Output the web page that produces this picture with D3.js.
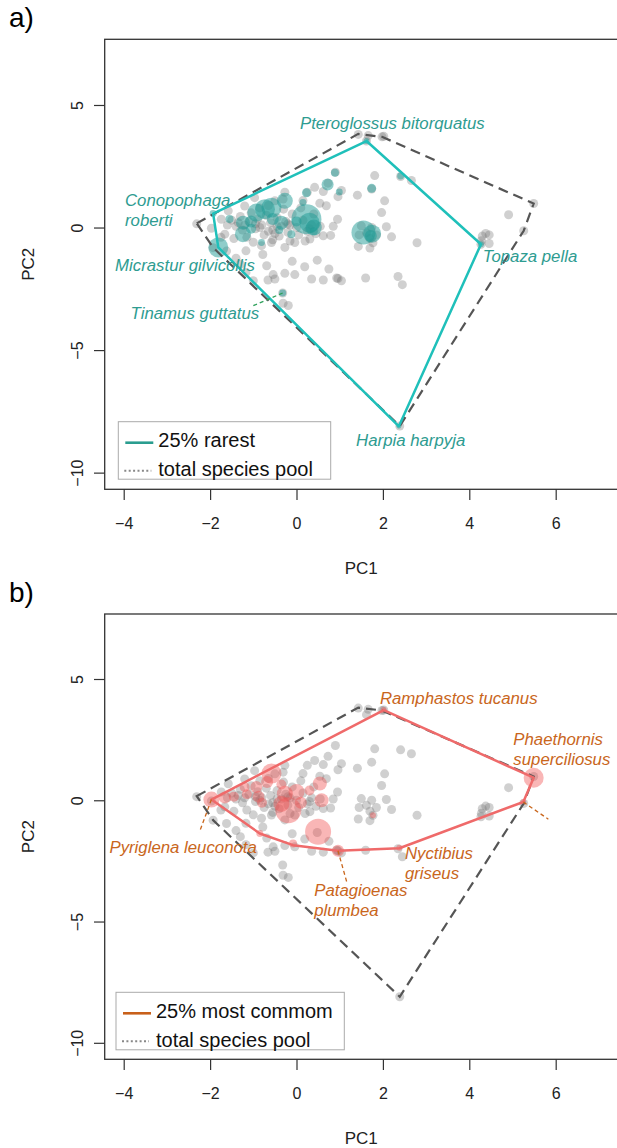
<!DOCTYPE html>
<html>
<head>
<meta charset="utf-8">
<script src="https://cdn.jsdelivr.net/npm/d3@7"></script>
<style>
  body { margin: 0; background: #fff; }
  text { font-family: "Liberation Sans", Arial, sans-serif; }
</style>
</head>
<body>
<div id="chart"></div>
<script>
// axis ticks
var xTicks = [-4, -2, 0, 2, 4, 6];
var yTicks = [-10, -5, 0, 5];

// whole species pool (grey points), PC1 / PC2
var poolPC1 = [-2.31, 1.43, 1.66, 1.98, 5.49, 5.26, 2.39, -1.93, 4.91, 4.38, 4.46, 4.46, 4.28, 4.30,
  2.66, 1.81, 2.41, 2.04, 1.97, 2.08, 2.20, 2.79, 2.35, 2.45, 1.60, 1.41, 1.43, 1.70, 1.50, 1.74,
  1.62, 1.85, 1.45, 1.70, 1.77, 0.90, 1.04, 1.74, 0.73, 0.42, 0.62, 0.96, 0.25, -0.27, -0.31, 0.15,
  0.69, 0.54, 0.95, 0.79, 0.62, 0.31, -0.04, -0.27, -0.58, -0.81, -1.17, -1.66, -1.97, -1.74, -1.58,
  -1.20, -0.97, -0.50, -0.69, -0.10, 0.19, 0.48, 0.75, -0.27, -0.04, -0.50, -0.66, -0.54, 0.35, 0.62,
  0.93, 1.04, -1.17, -1.00, -0.31, -0.19, -1.62, -1.40, -1.50, -1.40, -1.30, -1.25, -1.10, -1.05,
  -0.95, -0.90, -0.80, -0.75, -0.70, -0.60, -0.55, -0.45, -0.40, -0.35, -0.25, -0.20, -0.10, 0.00,
  0.05, 0.15, 0.25, 0.35, 0.45, 0.55, -1.60, -1.45, -1.15, -0.85, -0.65, -0.30, 0.10, 0.40, -1.00,
  -0.55, -0.15, 0.20, -1.75, 0.85, -0.78, -1.30, -1.20, -0.95, -0.65, -0.45, -0.15, 1.62, 4.27,
  -0.32, 2.02, 0.96, -1.35, -0.85, -0.50, -0.20, 0.30];
var poolPC2 = [0.15, 3.80, 3.75, 3.70, 0.98, -0.13, -8.10, -0.82, 0.52, -0.24, -0.30, -0.65, -0.54, -0.35,
  1.92, 2.12, 2.08, 1.09, 0.61, 0.03, -0.38, -0.62, -2.00, -2.33, -2.06, 1.32, -0.77, -0.84, 0.07, 0.00,
  -0.21, -0.30, -0.30, -0.45, -0.62, 2.26, 1.51, 1.57, 1.81, 1.64, 1.47, 1.26, 1.44, 1.44, 1.16, 1.10,
  0.89, 0.99, 0.34, -0.32, -0.34, -0.47, -0.61, -0.81, -0.61, -0.74, -0.95, -0.27, -0.03, 0.34, 0.68,
  0.88, 1.22, 1.09, -1.56, -1.38, -1.60, -1.33, -1.69, -1.87, -1.92, -2.10, -2.14, -1.92, -2.10, -2.14,
  -2.06, -2.17, -1.83, -2.17, -3.09, -3.18, -0.96, -1.25, 0.30, 0.05, 0.45, -0.10, 0.25, 0.60,
  -0.05, 0.35, 0.10, -0.30, 0.50, 0.20, -0.10, 0.40, -0.35, 0.05, 0.25, -0.20, 0.55, 0.00,
  -0.30, 0.30, -0.15, 0.10, -0.25, 0.05, 0.10, -0.45, -0.40, 0.80, 0.90, 0.75, 0.80, 0.55, -0.60,
  -0.50, -0.55, -0.55, -0.40, 0.05, -1.10, -1.50, 0.10, 0.15, -0.15, 0.05, 0.10, 3.53, -0.68,
  -2.67, 3.72, -2.08, 0.20, 0.00, -0.25, 0.15, -0.05];

// convex hull of the whole pool
var poolHullPC1 = [-2.31, 1.43, 1.98, 5.49, 5.26, 2.39, -1.93];
var poolHullPC2 = [0.17, 3.82, 3.70, 0.98, -0.13, -8.10, -0.82];

// a) 25% rarest species, bubble weight = relative abundance
var rarePC1 = [0.23, 0.40, 0.30, 1.55, 1.75, 1.72, -0.73, -0.58, -0.27, -0.93, -1.24, -1.24, -0.35, 0.72,
  0.89, 0.99, 1.74, 2.41, 0.23, 0.15, -1.81, -1.93, -1.55, -0.81, -0.12, -0.40, -1.05, 0.40, -0.32,
  1.62, 4.27, 2.37, -0.55, -1.05, 0.00];
var rarePC2 = [0.34, 0.00, 0.20, -0.20, -0.25, -0.35, 0.75, 0.81, 1.09, 0.61, 0.20, -0.27, 0.20, 1.76,
  2.24, 1.45, 1.60, 2.10, 1.42, 1.02, -0.81, 0.57, 0.35, -0.61, -0.27, -0.10, -0.05, -0.15, -2.67,
  3.53, -0.68, -8.11, 0.35, 0.25, 0.25];
var rareW = [22.5, 6.4, 10, 14.4, 8.1, 3.6, 10, 10, 6.4, 8.1, 4.9, 6.4, 4.9, 3.6,
  1.6, 1.2, 2.0, 1.2, 2.0, 1.2, 10, 1.2, 1.6, 1.2, 1.6, 1.6, 2.5, 1.6, 1.2,
  0.9, 0.9, 0.6, 3.6, 3.6, 2.5];
var rareHullPC1 = [-1.93, 1.62, 4.27, 2.37, -1.81];
var rareHullPC2 = [0.57, 3.53, -0.68, -8.11, -0.81];
var rareNames = [["Pteroglossus bitorquatus"], ["Conopophaga", "roberti"], ["Micrastur gilvicollis"],
  ["Topaza pella"], ["Tinamus guttatus"], ["Harpia harpyja"]];
var rareNamePC1 = [0.08, -3.97, -4.20, 4.31, -3.84, 1.38];
var rareNamePC2 = [4.01, 0.88, -1.77, -1.40, -3.74, -8.91];
// leader lines: from point to label
var rareLeaders = [[-0.32, -2.67, -1.04, -3.22]];

// b) 25% most common species
var commonPC1 = [-1.97, -1.66, -1.45, -0.58, -0.68, -0.93, -0.88, -0.80, -0.27, 0.00, -0.19, -0.35, 0.10,
  0.30, 0.54, 0.58, 0.50, -0.08, 0.96, 1.77, -1.20, -1.15, 5.49, 5.25, 2.38, 2.02, -0.85, -0.35];
var commonPC2 = [0.03, 0.11, 0.15, 1.10, 0.75, 0.55, 0.15, -0.10, 0.27, 0.34, -0.41, -0.15, -0.10,
  0.40, 0.69, 0.00, -1.30, -1.78, -2.08, -0.62, 0.55, 0.25, 0.93, -0.07, -1.96, 3.72, -1.37, 0.65];
var commonW = [6.4, 3.6, 2.5, 10, 3.6, 3.6, 3.6, 2.5, 6.4, 6.4, 16.9, 6.4, 3.6,
  2.5, 4.9, 4.9, 16.9, 1.6, 3.6, 0.9, 2.5, 2.5, 10, 0.9, 0.9, 0.9, 1.2, 2.5];
var commonHullPC1 = [-1.97, -0.85, -0.08, 0.96, 2.38, 5.25, 5.49, 2.02];
var commonHullPC2 = [0.03, -1.37, -1.85, -2.08, -1.98, -0.07, 0.93, 3.72];
var commonNames = [["Ramphastos tucanus"], ["Phaethornis", "superciliosus"], ["Pyriglena leuconota"],
  ["Nyctibius", "griseus"], ["Patagioenas", "plumbea"]];
var commonNamePC1 = [1.93, 5.02, -4.33, 2.51, 0.41];
var commonNamePC2 = [3.96, 2.27, -2.16, -2.43, -3.95];
var commonLeaders = [[-1.97, 0.03, -2.25, -1.33], [0.96, -2.08, 1.16, -3.35], [5.25, -0.07, 5.83, -0.78]];

var svg = d3.select("#chart").append("svg").attr("width", 617).attr("height", 1148);

var x = d3.scaleLinear().domain([-4.44, 7.44]).range([104.7, 617.9]);
var rScale = d3.scaleSqrt().domain([0, 22.5]).range([0, 15]);

function hullPath(xs, ys, y) {
  return "M" + xs.map(function (v, i) { return x(v) + "," + y(ys[i]); }).join("L") + "Z";
}

function drawPanel(p) {
  var y = d3.scaleLinear().domain([-10.68, 7.68]).range([p.bottom, p.top]);
  var g = svg.append("g");

  g.append("text").attr("x", 9).attr("y", p.top - 12).style("font-size", "28px").text(p.tag);

  // grey pool points
  g.selectAll(".pool").data(poolPC1).enter().append("circle")
    .attr("cx", function (d) { return x(d); })
    .attr("cy", function (d, i) { return y(poolPC2[i]); })
    .attr("r", 4.5).attr("fill", "#6e6e6e").attr("fill-opacity", 0.32);

  // subset bubbles
  g.selectAll(".sub").data(p.pc1).enter().append("circle")
    .attr("cx", function (d) { return x(d); })
    .attr("cy", function (d, i) { return y(p.pc2[i]); })
    .attr("r", function (d, i) { return rScale(p.w[i]); })
    .attr("fill", p.fill).attr("fill-opacity", p.fillOp);

  // hulls
  g.append("path").attr("d", hullPath(poolHullPC1, poolHullPC2, y))
    .attr("fill", "none").attr("stroke", "#555").attr("stroke-width", 2.2)
    .attr("stroke-dasharray", "10,6");
  g.append("path").attr("d", hullPath(p.hx, p.hy, y))
    .attr("fill", "none").attr("stroke", p.hullCol).attr("stroke-width", 2.5)
    .attr("stroke-linejoin", "round");

  // leaders
  p.leaders.forEach(function (l) {
    g.append("line").attr("x1", x(l[0])).attr("y1", y(l[1])).attr("x2", x(l[2])).attr("y2", y(l[3]))
      .attr("stroke", p.leaderCol).attr("stroke-width", 1.3).attr("stroke-dasharray", "4,3");
  });

  // species labels
  p.names.forEach(function (lines, i) {
    var t = g.append("text").attr("x", x(p.nx[i])).attr("y", y(p.ny[i]))
      .style("font-size", "16.8px").style("font-style", "italic").attr("fill", p.textCol);
    lines.forEach(function (s, k) {
      t.append("tspan").attr("x", x(p.nx[i])).attr("dy", k === 0 ? 0 : 20).text(s);
    });
  });

  // box
  g.append("rect").attr("x", 104.7).attr("y", p.top).attr("width", 513.2).attr("height", p.bottom - p.top)
    .attr("fill", "none").attr("stroke", "#333").attr("stroke-width", 1.3);

  // axes
  var xa = g.append("g").attr("transform", "translate(0," + p.bottom + ")")
    .call(d3.axisBottom(x).tickValues(xTicks).tickSize(10.7).tickPadding(18).tickFormat(d3.format("d")));
  xa.select(".domain").remove();
  xa.selectAll("line").attr("stroke", "#333").attr("stroke-width", 1.2);
  xa.selectAll("text").style("font-size", "16px").attr("fill", "#222")
    .style("font-family", "Liberation Sans, Arial, sans-serif");

  var ya = g.append("g").attr("transform", "translate(104.7,0)")
    .call(d3.axisLeft(y).tickValues(yTicks).tickSize(10.7).tickFormat(d3.format("d")));
  ya.select(".domain").remove();
  ya.selectAll("line").attr("stroke", "#333").attr("stroke-width", 1.2);
  ya.selectAll("text").attr("x", null).attr("dy", null).attr("text-anchor", "middle")
    .attr("transform", "translate(-22,0) rotate(-90)")
    .style("font-size", "16px").attr("fill", "#222")
    .style("font-family", "Liberation Sans, Arial, sans-serif");

  g.append("text").attr("x", 361.3).attr("y", p.bottom + 84.7).attr("text-anchor", "middle")
    .style("font-size", "17px").attr("fill", "#222").text("PC1");
  g.append("text").attr("transform", "translate(34.4," + ((p.top + p.bottom) / 2) + ") rotate(-90)")
    .attr("text-anchor", "middle").style("font-size", "17px").attr("fill", "#222").text("PC2");

  // legend
  var L = p.legend;
  g.append("rect").attr("x", L.x).attr("y", L.y).attr("width", L.w).attr("height", 57.5)
    .attr("fill", "#fff").attr("stroke", "#aaa").attr("stroke-width", 1);
  g.append("line").attr("x1", L.x + 7).attr("x2", L.x + 35).attr("y1", L.y + 21).attr("y2", L.y + 21)
    .attr("stroke", p.legendCol).attr("stroke-width", 2.6);
  g.append("line").attr("x1", L.x + 6).attr("x2", L.x + 33).attr("y1", L.y + 49).attr("y2", L.y + 49)
    .attr("stroke", "#888").attr("stroke-width", 2).attr("stroke-dasharray", "2,2.4");
  g.append("text").attr("x", L.x + 40).attr("y", L.y + 25.5).style("font-size", "20px").attr("fill", "#111").text(p.legendText);
  g.append("text").attr("x", L.x + 40).attr("y", L.y + 54.5).style("font-size", "20px").attr("fill", "#111").text("total species pool");
}

drawPanel({
  tag: "a)", top: 39.3, bottom: 489.3,
  pc1: rarePC1, pc2: rarePC2, w: rareW, fill: "#209c95", fillOp: 0.5,
  hx: rareHullPC1, hy: rareHullPC2, hullCol: "#1fc0ba",
  names: rareNames, nx: rareNamePC1, ny: rareNamePC2, textCol: "#2e9c91",
  leaders: rareLeaders, leaderCol: "#2da05a",
  legend: { x: 118.3, y: 421.7, w: 212.4 }, legendCol: "#2a9d8f", legendText: "25% rarest"
});

drawPanel({
  tag: "b)", top: 614, bottom: 1059.3,
  pc1: commonPC1, pc2: commonPC2, w: commonW, fill: "#f05050", fillOp: 0.42,
  hx: commonHullPC1, hy: commonHullPC2, hullCol: "#ef6a6a",
  names: commonNames, nx: commonNamePC1, ny: commonNamePC2, textCol: "#c9661c",
  leaders: commonLeaders, leaderCol: "#c9661c",
  legend: { x: 116, y: 992.3, w: 228.3 }, legendCol: "#c8601a", legendText: "25% most commom"
});
</script>
</body>
</html>
